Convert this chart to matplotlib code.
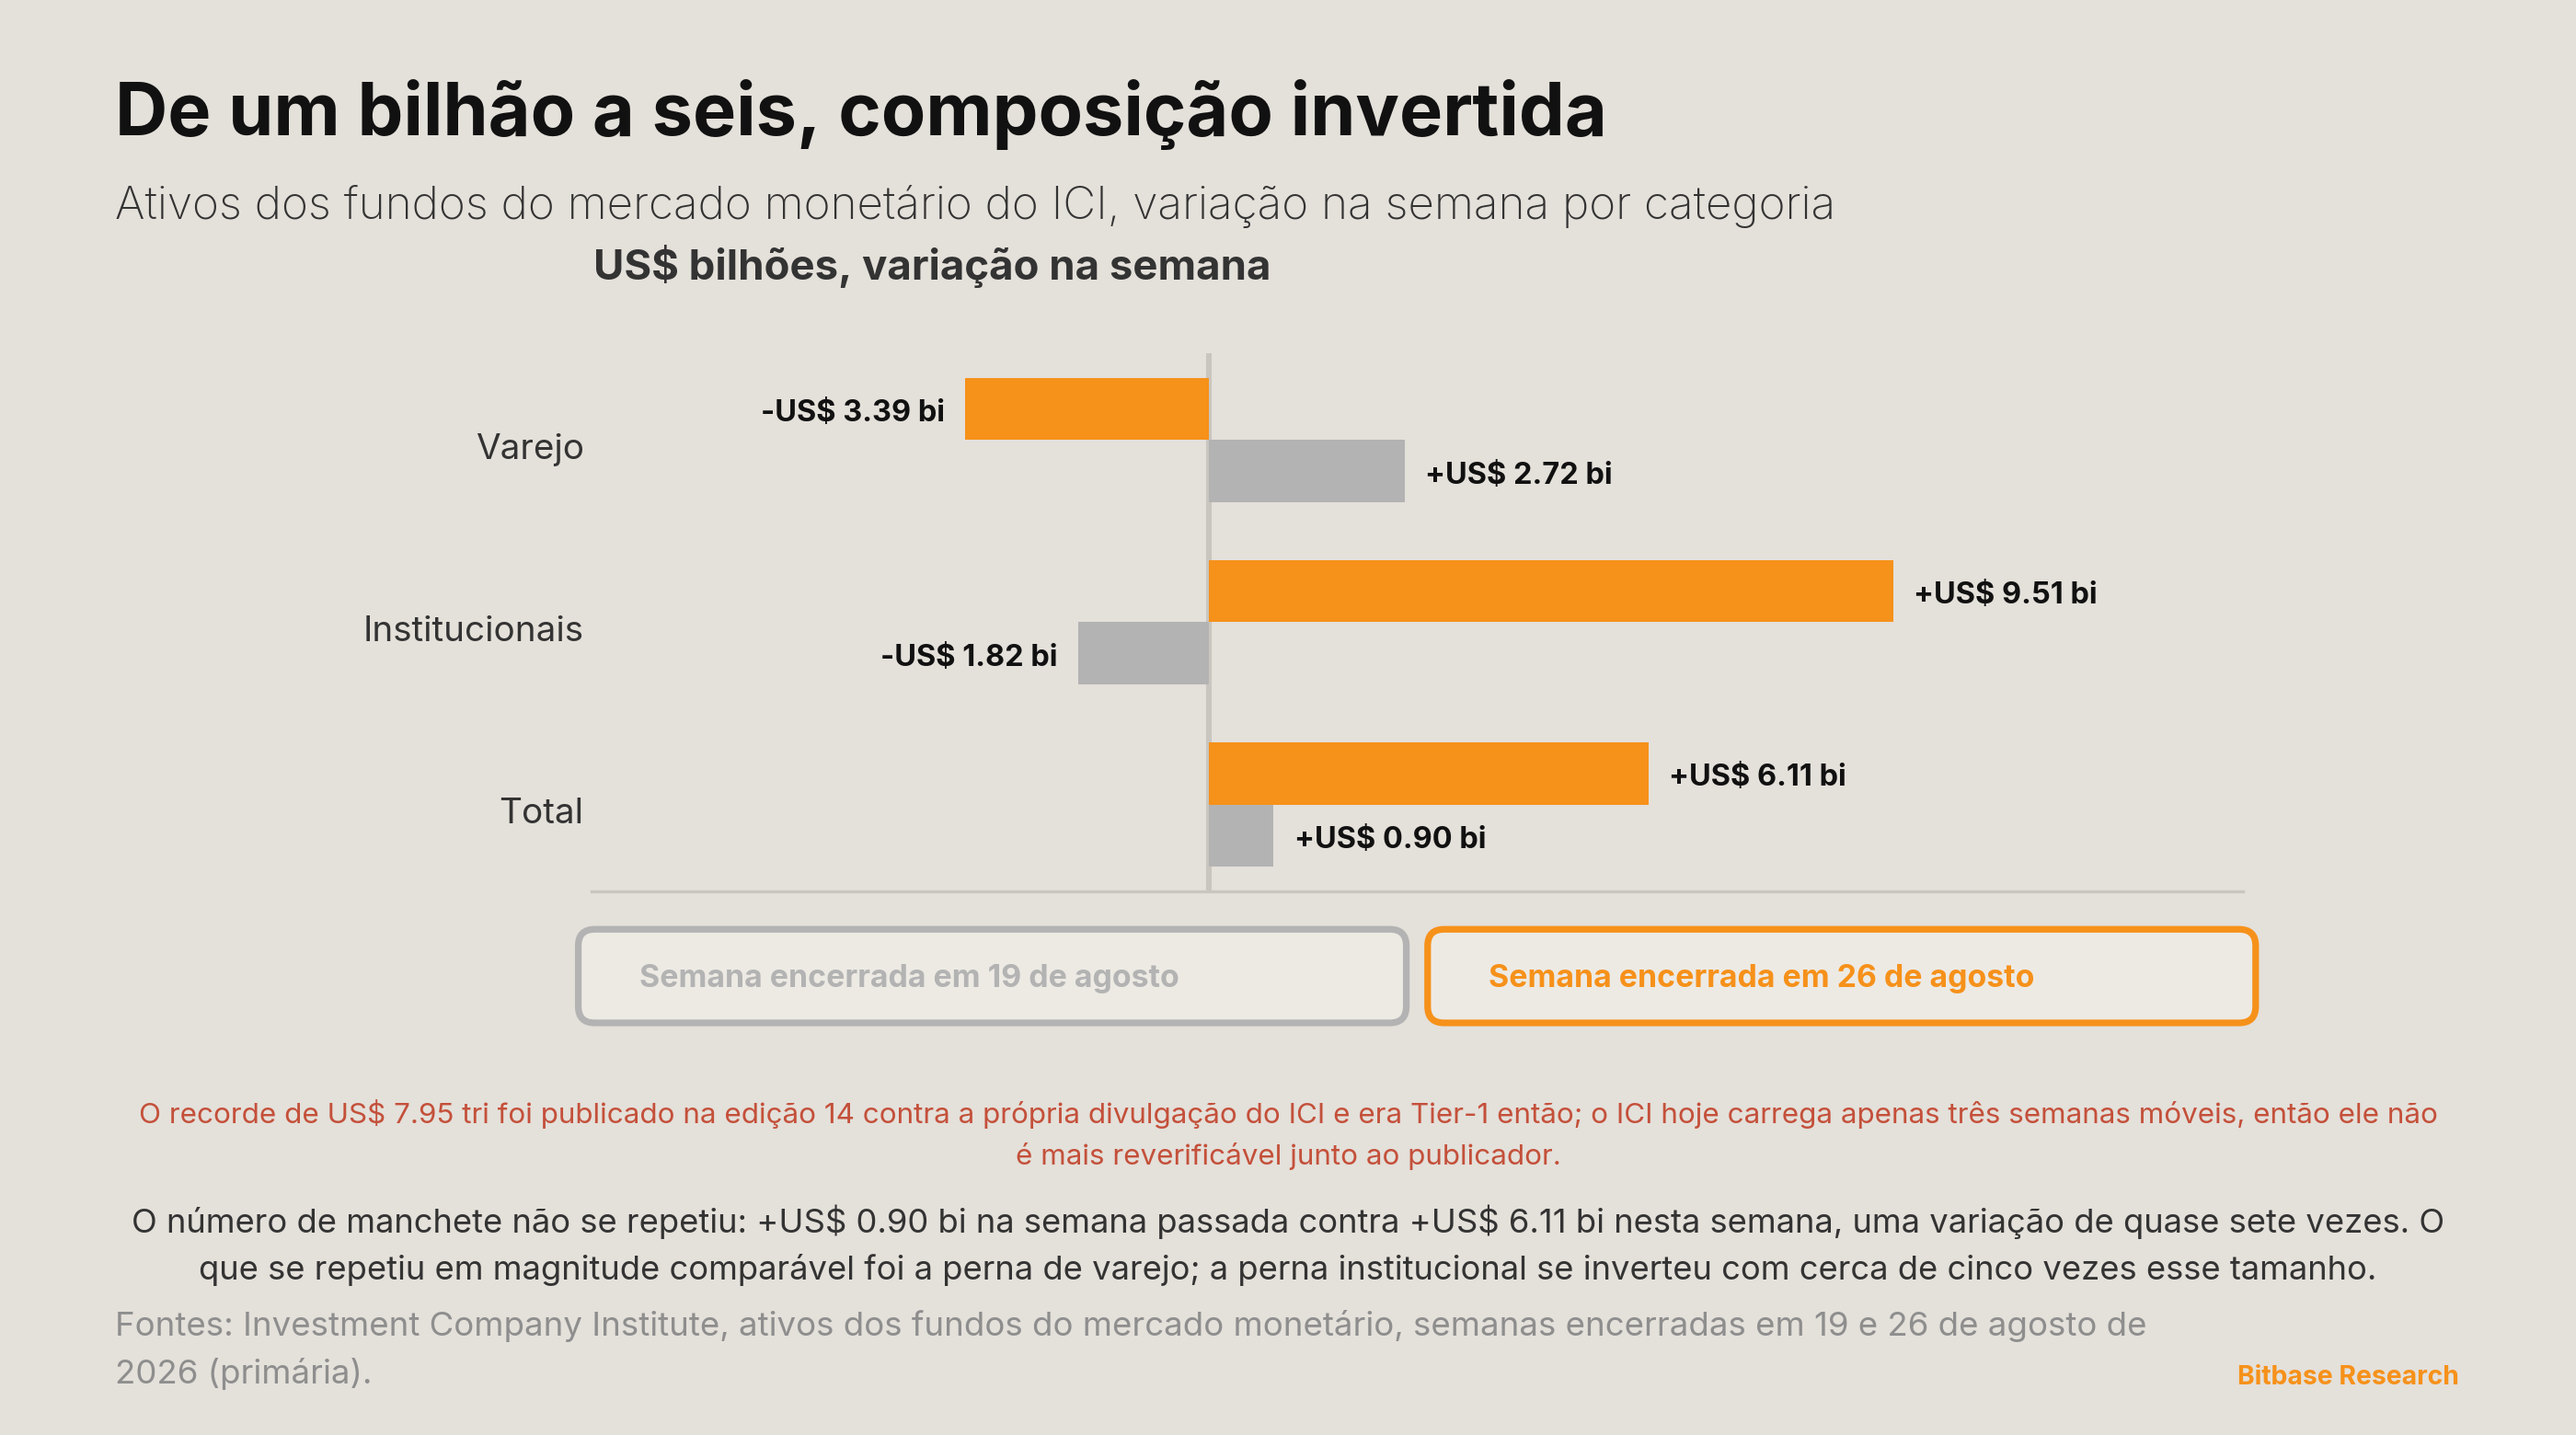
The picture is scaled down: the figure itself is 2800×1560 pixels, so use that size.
import matplotlib
matplotlib.use("Agg")
import matplotlib.pyplot as plt
import matplotlib.transforms as mtransforms
from matplotlib.patches import FancyBboxPatch
import numpy as np

plt.rcParams['font.family'] = ['Inter', 'DejaVu Sans']
plt.rcParams['text.parse_math'] = False

# ---- data ----
categories = ["Varejo", "Institucionais", "Total"]
week_26 = [-3.39, 9.51, 6.11]   # semana encerrada em 26 de agosto (laranja)
week_19 = [2.72, -1.82, 0.90]   # semana encerrada em 19 de agosto (cinza)
series_labels = ["Semana encerrada em 19 de agosto", "Semana encerrada em 26 de agosto"]

title = "De um bilhão a seis, composição invertida"
subtitle = "Ativos dos fundos do mercado monetário do ICI, variação na semana por categoria"
axis_title = "US$ bilhões, variação na semana"
note = ("O recorde de US$ 7.95 tri foi publicado na edição 14 contra a própria divulgação do ICI e era Tier-1 então; o ICI hoje carrega apenas três semanas móveis, então ele não\n"
        "é mais reverificável junto ao publicador.")
para = ("O número de manchete não se repetiu: +US$ 0.90 bi na semana passada contra +US$ 6.11 bi nesta semana, uma variação de quase sete vezes. O\n"
        "que se repetiu em magnitude comparável foi a perna de varejo; a perna institucional se inverteu com cerca de cinco vezes esse tamanho.")
source = ("Fontes: Investment Company Institute, ativos dos fundos do mercado monetário, semanas encerradas em 19 e 26 de agosto de\n"
          "2026 (primária).")
brand = "Bitbase Research"

BG = "#e4e0da"
ORANGE = "#f6911a"
GRAY = "#b3b3b3"
LINE = "#c9c5bf"
DARK = "#111111"
TXT = "#333333"

W, H = 1568, 874  # layout reference units
fig = plt.figure(figsize=(14, 7.8), dpi=200, facecolor=BG)

# overlay axes in layout units
ov = fig.add_axes([0, 0, 1, 1], zorder=0)
ov.set_xlim(0, W)
ov.set_ylim(H, 0)
ov.axis("off")
ov.set_facecolor("none")

# ---- bar chart axes ----
x0, x1, y0, y1 = 360, 1365, 215, 543
ax = fig.add_axes([x0 / W, 1 - y1 / H, (x1 - x0) / W, (y1 - y0) / H], zorder=1)
ax.set_facecolor("none")
y = np.arange(len(categories))
h = 0.34
ax.barh(y - h / 2, week_26, height=h, color=ORANGE, zorder=2)
ax.barh(y + h / 2, week_19, height=h, color=GRAY, zorder=2)
ax.set_xlim(-8.58, 14.36)
ax.set_ylim(2.478, -0.478)
for s in ["top", "right", "left"]:
    ax.spines[s].set_visible(False)
ax.spines["bottom"].set_color(LINE)
ax.spines["bottom"].set_linewidth(1.2)
ax.axvline(0, color=LINE, lw=2.2, zorder=1)
ax.set_xticks([])
ax.set_yticks(y)
ax.set_yticklabels(categories, fontsize=13.9, color=TXT)
ax.tick_params(axis="y", length=0, pad=3)
shift = mtransforms.ScaledTranslation(0, -2.5 / 72, fig.dpi_scale_trans)
for lbl in ax.get_yticklabels():
    lbl.set_transform(lbl.get_transform() + shift)


def fmt(v):
    return ("+" if v >= 0 else "-") + "US$ %.2f bi" % abs(v)


for vals, off in ((week_26, -h / 2), (week_19, h / 2)):
    for i, v in enumerate(vals):
        ax.annotate(fmt(v), (v, i + off), xytext=(8 if v >= 0 else -8, -1.8),
                    textcoords="offset points", ha="left" if v >= 0 else "right",
                    va="center", fontsize=11.7, fontweight="bold", color=DARK)

# ---- titles ----
ov.text(70, 70, title, fontsize=28.5, fontweight="bold", color=DARK, va="center", ha="left")
ov.text(70, 125.5, subtitle, fontsize=17.8, color=TXT, va="center", ha="left", fontweight="light")
ov.text(361, 162, axis_title, fontsize=16.4, fontweight="bold", color=TXT, va="center", ha="left")

# ---- legend boxes ----
boxes = [(352, 566, 504, 57, GRAY, series_labels[0], 389),
         (869, 566, 504, 57, ORANGE, series_labels[1], 906)]
for bx, by, bw, bh, col, lab, tx in boxes:
    p = FancyBboxPatch((bx, by), bw, bh, boxstyle="round,pad=0,rounding_size=10",
                       facecolor="#edeae4", edgecolor=col, linewidth=2.6)
    ov.add_patch(p)
    ov.text(tx, by + bh / 2 + 1.5, lab, fontsize=12.2, fontweight="bold", color=col,
            va="center", ha="left")

# ---- notes ----
ov.text(784, 691, note, fontsize=11.3, color="#c4503a", ha="center", va="center",
        linespacing=1.62)
ov.text(784, 758.5, para, fontsize=13.1, color=TXT, ha="center", va="center",
        linespacing=1.6)
ov.text(70, 822, source, fontsize=13.2, color="#8e8e8e", ha="left", va="center",
        linespacing=1.62)
ov.text(1497, 839, brand, fontsize=10.2, fontweight="bold", color=ORANGE,
        ha="right", va="center")

fig.savefig("out.png", dpi=200, facecolor=BG)
